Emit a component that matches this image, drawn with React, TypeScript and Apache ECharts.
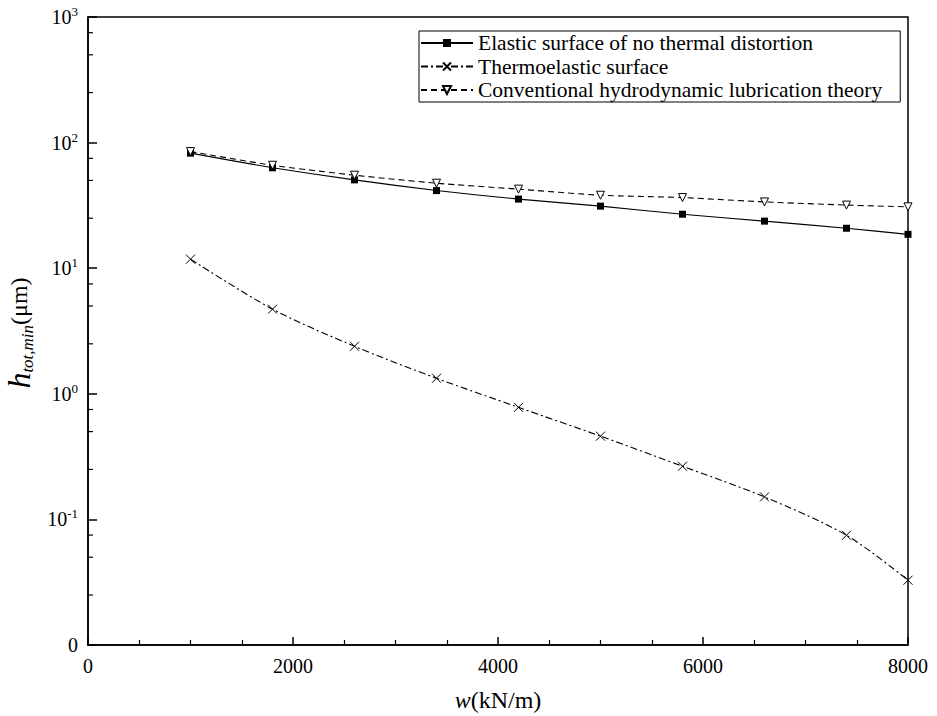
import { useEffect, useRef } from "react";
import * as echarts from "echarts";

const loads = [1000, 1800, 2600, 3400, 4200, 5000, 5800, 6600, 7400, 8000];
const elastic = [82.4, 63, 50.5, 41.5, 35.5, 31.2, 26.9, 23.7, 20.8, 18.6];
const thermo = [11.8, 4.72, 2.39, 1.33, 0.78, 0.46, 0.265, 0.151, 0.0748, 0.0328];
const conventional = [84.8, 66, 55, 47.5, 42.6, 38.1, 36.5, 33.7, 31.8, 30.8];
const seriesNames = [
  "Elastic surface of no thermal distortion",
  "Thermoelastic surface",
  "Conventional hydrodynamic lubrication theory",
];
const yDecades = [0.01, 0.1, 1, 10, 100];
const yMinorMultipliers = [2.5, 5, 7.5];

const SERIF = "Liberation Serif";

export default function App() {
  const ref = useRef<HTMLDivElement>(null);
  useEffect(() => {
    if (!ref.current) return;
    const chart = echarts.init(ref.current, null, { renderer: "svg" });
    const minorVals: number[][] = [];
    yDecades.forEach((d) => yMinorMultipliers.forEach((m) => minorVals.push([0, d * m])));

    const pair = (arr: number[]) => loads.map((x, i) => [x, arr[i]]);

    chart.setOption({
      animation: false,
      backgroundColor: "#fff",
      textStyle: { fontFamily: SERIF, color: "#000" },
      grid: {
        left: 88,
        right: 29,
        top: 17,
        bottom: 71,
        show: true,
        borderColor: "#000",
        borderWidth: 1.5,
        containLabel: false,
        outerBoundsMode: "none",
      },
      legend: {
        data: seriesNames,
        orient: "vertical",
        left: 419,
        top: 31,
        padding: [1, 18, 1, 1],
        itemGap: 1.5,
        itemWidth: 52,
        itemHeight: 10,
        borderColor: "#000",
        borderWidth: 1,
        textStyle: { fontFamily: SERIF, fontSize: 21.5, color: "#000", lineHeight: 21 },
      },
      xAxis: {
        type: "value",
        min: 0,
        max: 8000,
        interval: 2000,
        name: "{i|w}(kN/m)",
        nameLocation: "middle",
        nameGap: 43,
        nameTextStyle: {
          fontFamily: SERIF,
          fontSize: 24,
          color: "#000",
          rich: { i: { fontFamily: SERIF, fontSize: 24, fontStyle: "italic", color: "#000" } },
        },
        axisLine: { lineStyle: { color: "#000", width: 1.5 } },
        axisTick: { inside: true, length: 8, lineStyle: { color: "#000", width: 1.5 } },
        minorTick: { show: true, splitNumber: 4, length: 5, lineStyle: { color: "#000", width: 1.2 } },
        splitLine: { show: false },
        axisLabel: {
          fontFamily: SERIF,
          fontSize: 20,
          color: "#000",
          margin: 11,
          formatter: (v: number) => String(v),
        },
      },
      yAxis: {
        type: "log",
        logBase: 10,
        min: 0.01,
        max: 1000,
        name: "{h|h}{s|tot,min}{u|(μm)}",
        nameLocation: "middle",
        nameRotate: 90,
        nameGap: 41,
        nameTextStyle: {
          fontFamily: SERIF,
          color: "#000",
          padding: [0, 4, 0, 0],
          rich: {
            h: { fontFamily: SERIF, fontSize: 32, fontStyle: "italic", color: "#000", lineHeight: 34, verticalAlign: "middle" },
            s: { fontFamily: SERIF, fontSize: 17, fontStyle: "italic", color: "#000", verticalAlign: "bottom", lineHeight: 17 },
            u: { fontFamily: SERIF, fontSize: 24, color: "#000", lineHeight: 34 },
          },
        },
        axisLine: { lineStyle: { color: "#000", width: 1.5 } },
        axisTick: { inside: true, length: 9, lineStyle: { color: "#000", width: 1.5 } },
        splitLine: { show: false },
        axisLabel: {
          fontFamily: SERIF,
          fontSize: 20,
          color: "#000",
          margin: 10,
          formatter: (v: number) =>
            v <= 0.0101 ? "0" : `10{sup|${Math.round(Math.log10(v))}}`,
          lineHeight: 24,
          rich: {
            sup: { fontFamily: SERIF, fontSize: 13, color: "#000", verticalAlign: "top", lineHeight: 13 },
          },
        },
      },
      series: [
        {
          name: seriesNames[0],
          type: "line",
          data: pair(elastic),
          smooth: 0.2,
          symbol: "rect",
          symbolSize: 7,
          itemStyle: { color: "#000" },
          lineStyle: { color: "#000", width: 1.1 },
        },
        {
          name: seriesNames[1],
          type: "line",
          data: pair(thermo),
          smooth: 0.3,
          symbol: "path://M0 0L10 10M10 0L0 10",
          symbolSize: 9,
          itemStyle: { color: "#000", borderColor: "#000", borderWidth: 1 },
          lineStyle: { color: "#000", width: 1.1, type: [7, 3, 2, 3] },
        },
        {
          name: seriesNames[2],
          type: "line",
          data: pair(conventional),
          smooth: 0.2,
          symbol: "triangle",
          symbolRotate: 180,
          symbolSize: 8,
          itemStyle: { color: "#fff", borderColor: "#000", borderWidth: 1 },
          lineStyle: { color: "#000", width: 1.1, type: [6, 4] },
        },
        {
          name: "minor-y",
          type: "custom",
          silent: true,
          clip: false,
          data: minorVals,
          renderItem: (_p: any, api: any) => {
            const pt = api.coord([0, api.value(1)]);
            return {
              type: "line",
              shape: { x1: pt[0], y1: pt[1], x2: pt[0] + 5, y2: pt[1] },
              style: { stroke: "#000", lineWidth: 1.2 },
            };
          },
        },
      ],
    });
    return () => chart.dispose();
  }, []);
  return (
    <div
      ref={ref}
      style={{ position: "fixed", left: 0, top: 0, width: 937, height: 716 }}
    />
  );
}
